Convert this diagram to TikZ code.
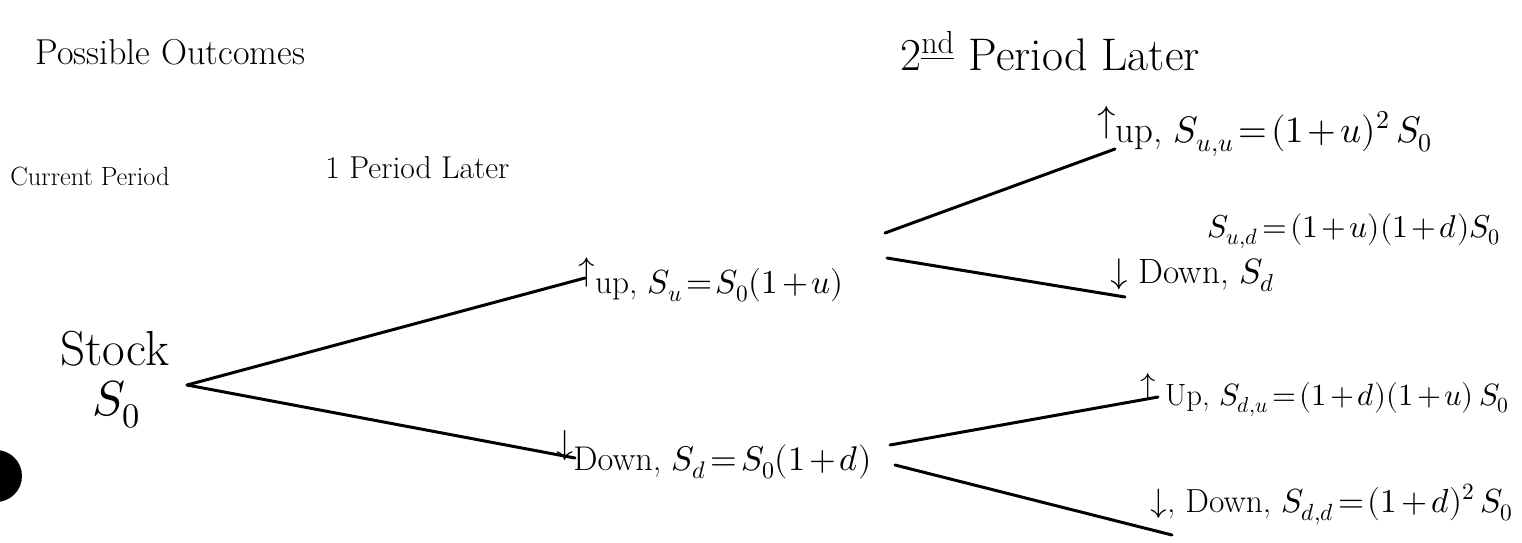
\documentclass[tikz,border=0pt]{standalone}
\usepackage{fontspec}
\usepackage{unicode-math}
\setmathfont{Latin Modern Math}
\newcommand{\fsz}[1]{\fontsize{#1pt}{#1pt}\selectfont}
\thickmuskip=2mu plus 1mu
\medmuskip=2mu plus 1mu
\tikzset{
  lbl/.style={anchor=base west, inner sep=0pt, text=black},
  branch/.style={draw=black, line width=1.7pt, line cap=round},
}
\begin{document}
\begin{tikzpicture}[x=0.02cm,y=-0.02cm]
\useasboundingbox (0,0) rectangle (1522,542);
% headings
\node[lbl, font=\fsz{20.5}] (title) at (35,64) {Possible Outcomes};
\node[lbl, font=\fsz{15}] (cur) at (10,185) {Current Period};
\node[lbl, font=\fsz{18}] (one) at (325,178) {1 Period Later};
\node[lbl, font=\fsz{26}] (two) at (900,70) {2\textsuperscript{\underline{nd}} Period Later};
% root
\node[lbl, font=\fsz{28}] (stock) at (60,365) {Stock};
\node[lbl, font=\fsz{28}] (s0) at (92,415) {$S_0$};
\fill[black] (-4,476) circle (26);
% first period
\node[lbl, font=\fsz{19}] (up) at (578,293) {\raisebox{7pt}{$\uparrow$}up, $S_u = S_0(1+u)$};
\node[lbl, font=\fsz{19.5}] (down) at (556,470) {\raisebox{9pt}{$\downarrow$}Down, $S_d = S_0(1+d)$};
% second period
\node[lbl, font=\fsz{21}] (uu) at (1097,142) {\raisebox{6pt}{$\uparrow$}up, $S_{u,u} = (1+u)^2\, S_0$};
\node[lbl, font=\fsz{18}] (ud) at (1207,237) {$S_{u,d} = (1+u)(1+d)S_0$};
\node[lbl, font=\fsz{20}] (udn) at (1110,283) {$\downarrow$ Down, $S_d$};
\node[lbl, font=\fsz{17.5}] (du) at (1140,405) {\raisebox{6pt}{$\uparrow$} Up, $S_{d,u} = (1+d)(1+u)\,S_0$};
\node[lbl, font=\fsz{19}] (dd) at (1150,512) {$\downarrow$, Down, $S_{d,d} = (1+d)^2\, S_0$};
% connector end points
\coordinate (root) at (187,385);
\coordinate (upIn) at (585,278);
\coordinate (downIn) at (575,458);
\coordinate (upOutA) at (885,233);
\coordinate (upOutB) at (887,258);
\coordinate (uuIn) at (1115,149);
\coordinate (udIn) at (1125,297);
\coordinate (downOutA) at (890,445);
\coordinate (downOutB) at (895,465);
\coordinate (duIn) at (1158,397);
\coordinate (ddIn) at (1172,535);
% branches
\draw[branch] (root) -- (upIn);
\draw[branch] (root) -- (downIn);
\draw[branch] (upOutA) -- (uuIn);
\draw[branch] (upOutB) -- (udIn);
\draw[branch] (downOutA) -- (duIn);
\draw[branch] (downOutB) -- (ddIn);
\end{tikzpicture}
\end{document}
